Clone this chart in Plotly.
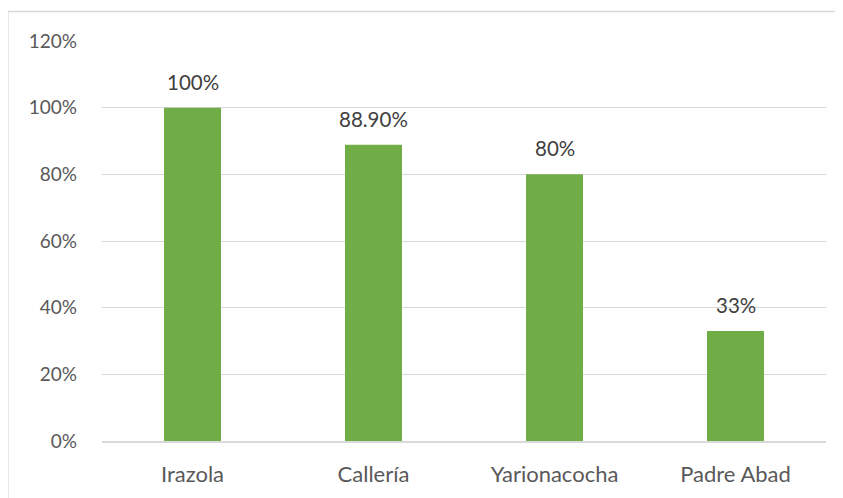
import plotly.graph_objects as go

categories = ["Irazola", "Callería", "Yarionacocha", "Padre Abad"]
values = [1.00, 0.889, 0.80, 0.33]
value_labels = ["100%", "88.90%", "80%", "33%"]
tick_vals = [0, 0.2, 0.4, 0.6, 0.8, 1.0, 1.2]
tick_text = ["0%", "20%", "40%", "60%", "80%", "100%", "120%"]

FONT = "Lato, Carlito, Calibri, sans-serif"

fig = go.Figure()
fig.add_trace(go.Bar(
    x=categories, y=values,
    marker=dict(color="#70ad47", line=dict(width=0)),
    width=0.315,
    hoverinfo="skip",
))

for c, v, t in zip(categories, values, value_labels):
    fig.add_annotation(x=c, y=v, text=t, showarrow=False, yanchor="bottom",
                       yshift=12, font=dict(family=FONT, size=20.5, color="#404040"))

# outer frame (left and top edges visible)
fig.add_shape(type="line", xref="paper", yref="paper", x0=-0.13, x1=1.1, y0=1.074, y1=1.074,
              line=dict(color="#d9d9d9", width=1.5))
fig.add_shape(type="line", xref="paper", yref="paper", x0=-0.13, x1=-0.13, y0=-0.2, y1=1.074,
              line=dict(color="#d9d9d9", width=1.5))

fig.update_layout(
    width=843, height=498,
    margin=dict(l=94, r=25, t=33, b=65),
    paper_bgcolor="white", plot_bgcolor="white",
    showlegend=False,
    font=dict(family=FONT, size=19, color="#595959"),
)
fig.update_yaxes(range=[0, 1.2], tickvals=tick_vals, ticktext=tick_text,
                 showgrid=True, gridcolor="#d9d9d9", gridwidth=1,
                 zeroline=False, showline=False, ticks="", ticklabelstandoff=24,
                 tickfont=dict(family=FONT, size=19, color="#595959"))
fig.update_xaxes(showgrid=False, showline=True, linecolor="#d9d9d9", linewidth=1.5,
                 ticks="", ticklabelstandoff=13,
                 tickfont=dict(family=FONT, size=22, color="#595959"))

fig.write_html("out.html")
